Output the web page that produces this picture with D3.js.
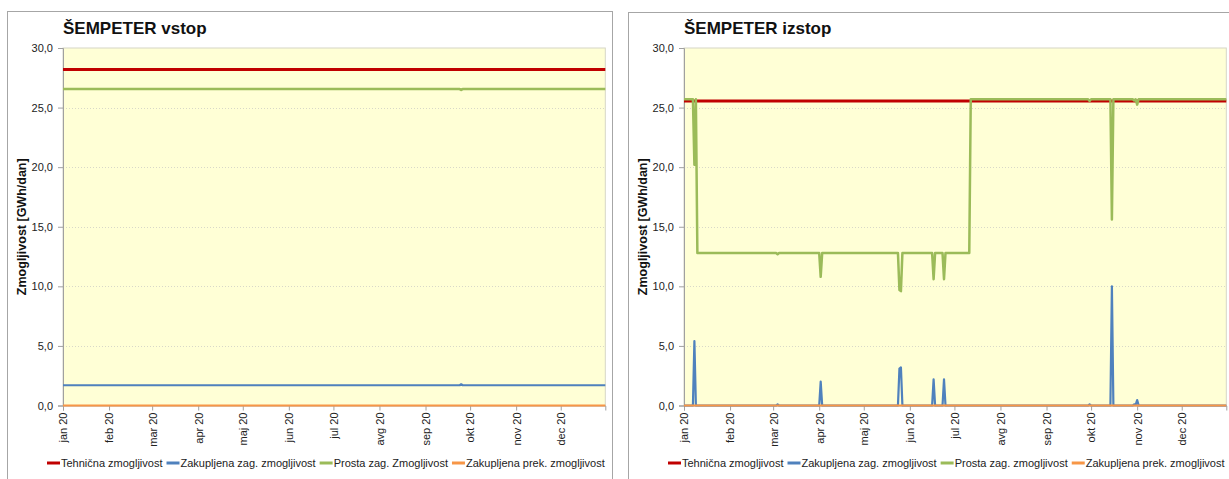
<!DOCTYPE html>
<html><head><meta charset="utf-8">
<script src="https://cdn.jsdelivr.net/npm/d3@7"></script>
<style>
body{margin:0;background:#fff;}
svg{display:block;font-family:"Liberation Sans",Arial,sans-serif;}
</style>
</head><body>
<svg id="c" width="1229" height="479"></svg>
<script>
// ---------- shared axis data ----------
const monthTicks = ["2020-01-01","2020-02-01","2020-03-01","2020-04-01","2020-05-01","2020-06-01","2020-07-01","2020-08-01","2020-09-01","2020-10-01","2020-11-01","2020-12-01"];
const monthLabels = ["jan 20","feb 20","mar 20","apr 20","maj 20","jun 20","jul 20","avg 20","sep 20","okt 20","nov 20","dec 20"];
const yTicks = [0,5,10,15,20,25,30];
const xDomain = ["2020-01-01","2020-12-31"];

// ---------- ŠEMPETER vstop ----------
const vstopTitle = "ŠEMPETER vstop";
const vstopLegend = ["Tehnična zmogljivost","Zakupljena zag. zmogljivost","Prosta zag. Zmogljivost","Zakupljena prek. zmogljivost"];
const vstopTehDates = ["2020-01-01","2020-12-31"];
const vstopTehValues = [28.2, 28.2];
const vstopZakDates = ["2020-01-01","2020-09-24","2020-09-25","2020-09-26","2020-12-31"];
const vstopZakValues = [1.7, 1.7, 1.78, 1.7, 1.7];
const vstopProDates = ["2020-01-01","2020-09-24","2020-09-25","2020-09-26","2020-12-31"];
const vstopProValues = [26.55, 26.55, 26.47, 26.55, 26.55];
const vstopPrekDates = ["2020-01-01","2020-12-31"];
const vstopPrekValues = [0, 0];

// ---------- ŠEMPETER izstop ----------
const izstopTitle = "ŠEMPETER izstop";
const izstopLegend = ["Tehnična zmogljivost","Zakupljena zag. zmogljivost","Prosta zag. zmogljivost","Zakupljena prek. zmogljivost"];
const izstopTehDates = ["2020-01-01","2020-12-31"];
const izstopTehValues = [25.55, 25.55];
const izstopZakDates = ["2020-01-01","2020-01-07","2020-01-08","2020-01-09","2020-03-03","2020-03-04","2020-03-05","2020-04-01","2020-04-02","2020-04-03","2020-05-24","2020-05-25","2020-05-26","2020-05-27","2020-06-16","2020-06-17","2020-06-18","2020-06-23","2020-06-24","2020-06-25","2020-09-29","2020-09-30","2020-10-01","2020-10-14","2020-10-15","2020-10-16","2020-10-29","2020-10-30","2020-10-31","2020-11-01","2020-11-02","2020-12-31"];
const izstopZakValues = [0,0,5.4,0,0,0.1,0,0,2.0,0,0,3.1,3.2,0,0,2.2,0,0,2.2,0,0,0.1,0,0,10.0,0,0,0.1,0.05,0.45,0,0];
const izstopProDates = ["2020-01-01","2020-01-07","2020-01-08","2020-01-09","2020-01-10","2020-03-03","2020-03-04","2020-03-05","2020-04-01","2020-04-02","2020-04-03","2020-05-24","2020-05-25","2020-05-26","2020-05-27","2020-06-16","2020-06-17","2020-06-18","2020-06-23","2020-06-24","2020-06-25","2020-07-11","2020-07-12","2020-09-29","2020-09-30","2020-10-01","2020-10-14","2020-10-15","2020-10-16","2020-10-29","2020-10-30","2020-10-31","2020-11-01","2020-11-02","2020-12-31"];
const izstopProValues = [25.7,25.7,20.2,25.7,12.8,12.8,12.7,12.8,12.8,10.8,12.8,12.8,9.7,9.6,12.8,12.8,10.6,12.8,12.8,10.6,12.8,12.8,25.7,25.7,25.55,25.7,25.7,15.6,25.7,25.7,25.6,25.7,25.25,25.7,25.7];
const izstopPrekDates = ["2020-01-01","2020-12-31"];
const izstopPrekValues = [0, 0];

// ---------- styles ----------
const seriesColors = ["#C00000","#4F81BD","#9BBB59","#F79646"];
const seriesWidths = [3, 2.2, 2.5, 2];
const drawOrder = [0,1,2,3];
const FONT = "Liberation Sans, Arial, sans-serif";

const parse = d3.utcParse("%Y-%m-%d");
const svg = d3.select("#c");

function zip(dates, values){ return dates.map((d,i)=>({date:parse(d), value:values[i]})); }

function drawPanel(px, py, pw, ph, title, legendLabels, series){
  const g = svg.append("g");
  g.append("rect").attr("x",px+0.5).attr("y",py+0.5).attr("width",pw).attr("height",ph)
    .attr("fill","#fff").attr("stroke","#a6a6a6").attr("stroke-width",1);

  const left = px + 56, right = left + 542.3, top = 48, bottom = 405.5;
  const x = d3.scaleUtc().domain(xDomain.map(parse)).range([left, right]);
  const y = d3.scaleLinear().domain([0,30]).range([bottom, top]);

  g.append("rect").attr("x",left).attr("y",top).attr("width",right-left).attr("height",bottom-top)
    .attr("fill","#FFFFD6").attr("stroke","#d6d6c6").attr("stroke-width",1);

  g.append("g").selectAll("line").data(yTicks.filter(v=>v>0 && v<30)).join("line")
    .attr("x1",left).attr("x2",right).attr("y1",d=>Math.round(y(d))+0.5).attr("y2",d=>Math.round(y(d))+0.5)
    .attr("stroke","#d8d8c8").attr("stroke-width",1).attr("stroke-dasharray","1,2");

  const ya = g.append("g").attr("transform",`translate(${left},0)`)
    .call(d3.axisLeft(y).tickValues(yTicks).tickSize(5).tickPadding(5).tickFormat(d=>d3.format(".1f")(d).replace(".",",")));
  ya.select(".domain").attr("stroke","#a0a0a0");
  ya.selectAll(".tick line").attr("stroke","#a0a0a0");
  ya.selectAll("text").attr("font-size","11px").attr("fill","#222").attr("font-family",FONT);

  const xa = g.append("g").attr("transform",`translate(0,${bottom})`)
    .call(d3.axisBottom(x).tickValues(monthTicks.map(parse)).tickSize(5).tickFormat((d,i)=>monthLabels[i]));
  xa.select(".domain").attr("stroke","#a0a0a0");
  xa.selectAll(".tick line").attr("stroke","#a0a0a0");
  xa.selectAll("text").attr("font-size","11px").attr("fill","#222").attr("font-family",FONT)
    .attr("transform","rotate(-90)").attr("text-anchor","end").attr("x",-7).attr("y",0).attr("dy","0.35em");

  g.append("text").attr("transform",`translate(${px+15},${(top+bottom)/2}) rotate(-90)`)
    .attr("text-anchor","middle").attr("dy","0.35em").attr("font-size","12.5px").attr("font-weight","bold").attr("fill","#111")
    .text("Zmogljivost [GWh/dan]");

  g.append("text").attr("x",px+56).attr("y",33.5).attr("font-size","17px").attr("font-weight","bold").attr("fill","#111")
    .text(title);

  const line = d3.line().x(d=>x(d.date)).y(d=>y(d.value)).curve(d3.curveLinear);
  drawOrder.forEach(i=>{
    g.append("path").datum(series[i]).attr("d",line).attr("fill","none")
      .attr("stroke",seriesColors[i]).attr("stroke-width",seriesWidths[i]).attr("stroke-linejoin","round");
  });

  let lx = px + 40;
  const ly = 463;
  legendLabels.forEach((lab,i)=>{
    g.append("line").attr("x1",lx).attr("x2",lx+13).attr("y1",ly).attr("y2",ly)
      .attr("stroke",seriesColors[i]).attr("stroke-width",3);
    const t = g.append("text").attr("x",lx+14).attr("y",ly).attr("dy","0.35em")
      .attr("font-size","11px").attr("fill","#222").text(lab);
    lx += 14 + t.node().getComputedTextLength() + 4;
  });
}

drawPanel(7, 11, 605, 480, vstopTitle, vstopLegend, [
  zip(vstopTehDates, vstopTehValues), zip(vstopZakDates, vstopZakValues),
  zip(vstopProDates, vstopProValues), zip(vstopPrekDates, vstopPrekValues)]);
drawPanel(628, 12, 620, 480, izstopTitle, izstopLegend, [
  zip(izstopTehDates, izstopTehValues), zip(izstopZakDates, izstopZakValues),
  zip(izstopProDates, izstopProValues), zip(izstopPrekDates, izstopPrekValues)]);
</script>
</body></html>
